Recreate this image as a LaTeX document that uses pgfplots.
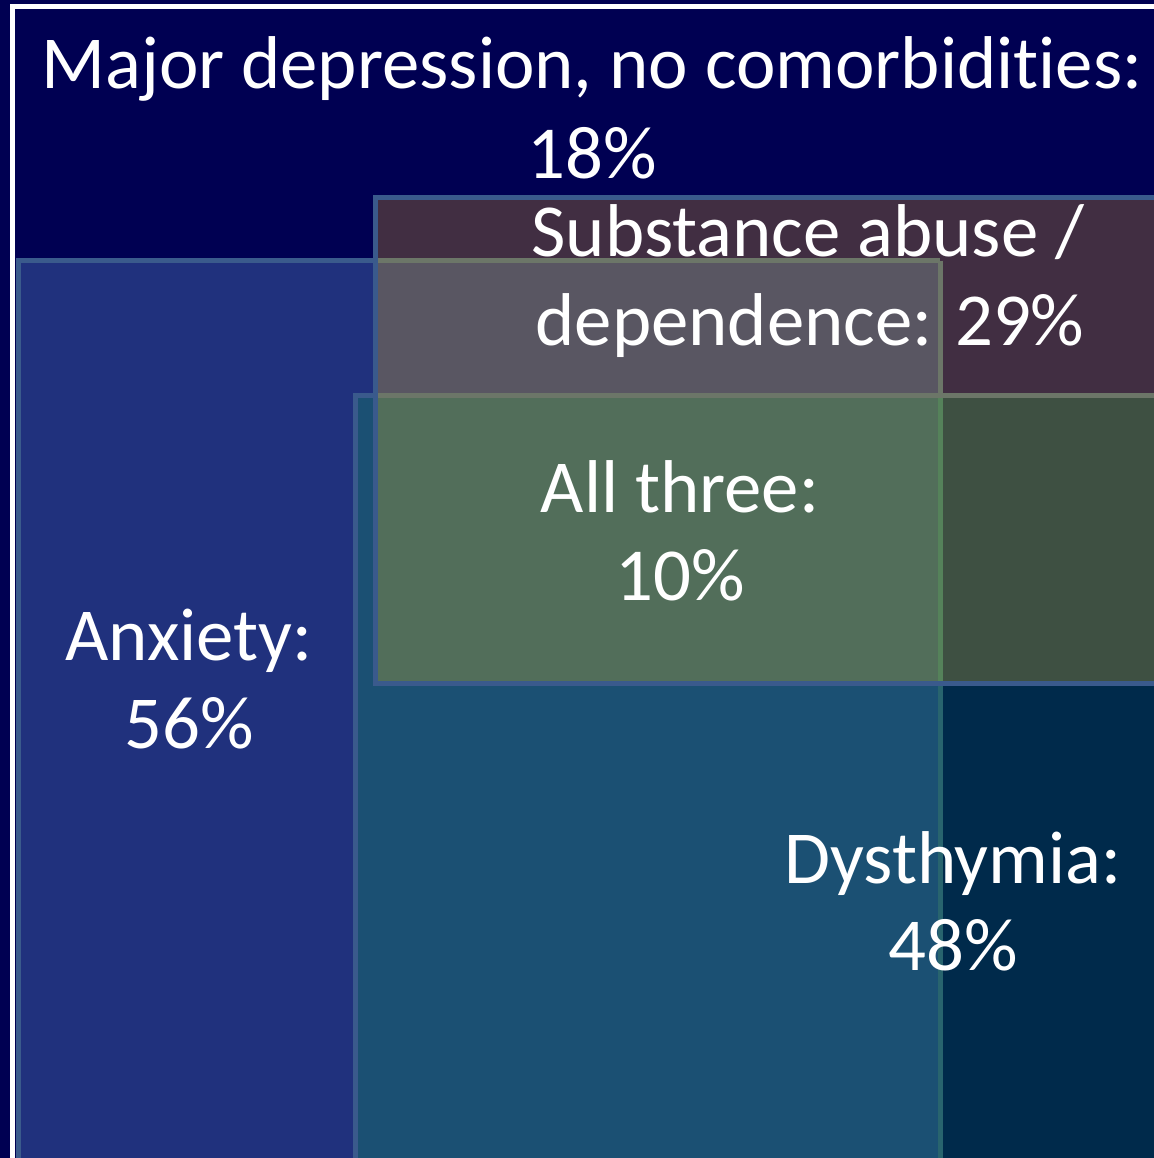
\documentclass[border=0pt]{standalone}
\usepackage{pgfplots}
\pgfplotsset{compat=1.18}
\usepackage{fontspec}
\setmainfont{Carlito}[Ligatures={NoCommon}]
\definecolor{bgc}{RGB}{0,0,82}
\definecolor{anx}{RGB}{32,49,125}
\definecolor{dys}{RGB}{0,42,75}
\definecolor{dysanx}{RGB}{27,80,115}
\definecolor{sub}{RGB}{65,46,66}
\definecolor{subanx}{RGB}{89,86,98}
\definecolor{subdys}{RGB}{62,80,66}
\definecolor{allthree}{RGB}{82,110,90}
\definecolor{edge}{RGB}{58,90,140}
\definecolor{edgegray}{RGB}{108,118,104}
\definecolor{edgegreen}{RGB}{85,130,90}
\definecolor{edgeteal}{RGB}{40,100,110}
\tikzset{lbl/.style={anchor=base, text=white, inner sep=0pt, font=\fontsize{18.7}{22}\selectfont}}
\begin{document}
\begin{tikzpicture}
\begin{axis}[
  scale only axis, width=288.5pt, height=289.5pt,
  xmin=0, xmax=1154, ymin=0, ymax=1158, y dir=reverse,
  hide axis,
]
% regions (pixel coordinates from top-left)
\addplot[fill=bgc, draw=none] coordinates {(0,0) (1154,0) (1154,1158) (0,1158)} -- cycle;
\addplot[draw=white, line width=1.2pt] coordinates {(12.3,1158) (12.3,6.5) (1154,6.5)};
\addplot[fill=anx, draw=none] coordinates {(16,258) (940,258) (940,1158) (16,1158)} -- cycle;
\addplot[fill=dys, draw=none] coordinates {(353,393) (1154,393) (1154,1158) (353,1158)} -- cycle;
\addplot[fill=dysanx, draw=none] coordinates {(353,393) (940,393) (940,1158) (353,1158)} -- cycle;
\addplot[fill=sub, draw=none] coordinates {(373,195) (1154,195) (1154,686) (373,686)} -- cycle;
\addplot[fill=subanx, draw=none] coordinates {(373,258) (940,258) (940,686) (373,686)} -- cycle;
\addplot[fill=subdys, draw=none] coordinates {(373,393) (1154,393) (1154,686) (373,686)} -- cycle;
\addplot[fill=allthree, draw=none] coordinates {(373,393) (940,393) (940,686) (373,686)} -- cycle;
% borders
\addplot[draw=edge, line width=1.25pt] coordinates {(18.5,1158) (18.5,260.5) (375.5,260.5)};
\addplot[draw=edgegray, line width=1.25pt] coordinates {(375.5,260.5) (940,260.5)};
\addplot[draw=edgegray, line width=1.25pt] coordinates {(940,260.5) (940,395.5)};
\addplot[draw=edgegreen, line width=1.25pt] coordinates {(940,395.5) (940,683.5)};
\addplot[draw=edgeteal, line width=1.25pt] coordinates {(940,683.5) (940,1158)};
\addplot[draw=edge, line width=1.25pt] coordinates {(355.5,1158) (355.5,395.5) (375.5,395.5)};
\addplot[draw=edgegray, line width=1.25pt] coordinates {(375.5,395.5) (1154,395.5)};
\addplot[draw=edge, line width=1.25pt] coordinates {(1154,197.5) (375.5,197.5) (375.5,683.5) (1154,683.5)};
% labels
\node[lbl] at (axis cs:592,88) {Major depression, no comorbidities:};
\node[lbl] at (axis cs:592,178) {18\%};
\node[lbl] at (axis cs:808,256) {Substance abuse /};
\node[lbl] at (axis cs:810,345) {dependence: 29\%};
\node[lbl] at (axis cs:680,512) {All three:};
\node[lbl] at (axis cs:680,600) {10\%};
\node[lbl] at (axis cs:189,660) {Anxiety:};
\node[lbl] at (axis cs:189,748) {56\%};
\node[lbl] at (axis cs:953,883) {Dysthymia:};
\node[lbl] at (axis cs:953,970) {48\%};
\end{axis}
\end{tikzpicture}
\end{document}
